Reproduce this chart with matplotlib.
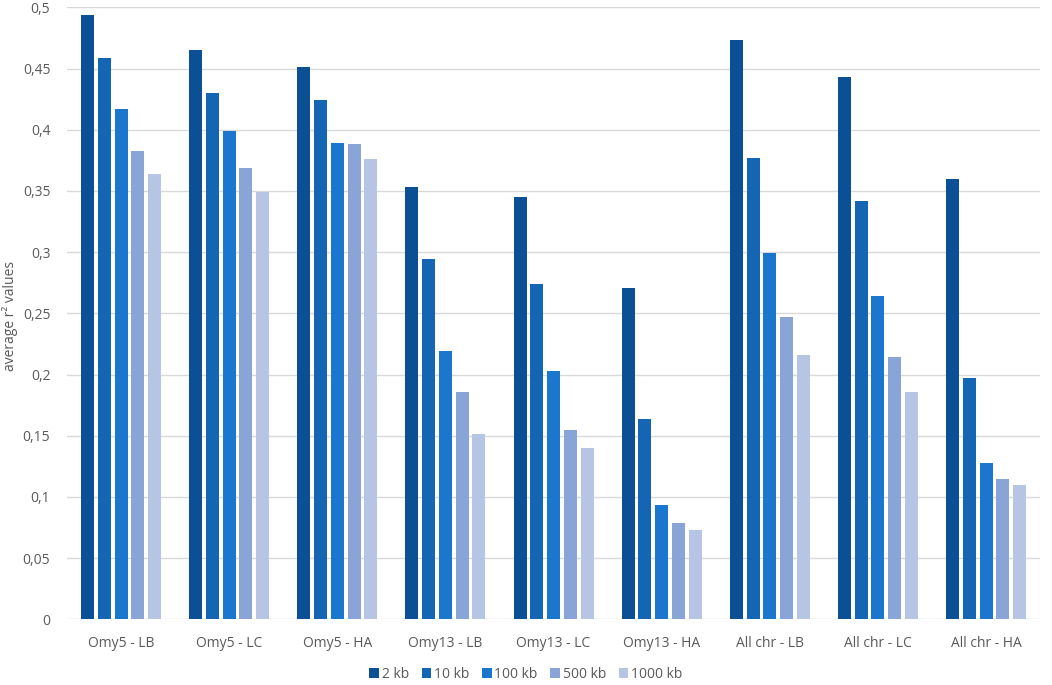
import matplotlib.pyplot as plt
import numpy as np

categories = ['Omy5 - LB', 'Omy5 - LC', 'Omy5 - HA', 'Omy13 - LB', 'Omy13 - LC',
              'Omy13 - HA', 'All chr - LB', 'All chr - LC', 'All chr - HA']
series = ['2 kb', '10 kb', '100 kb', '500 kb', '1000 kb']
v_2kb = [0.494, 0.465, 0.451, 0.353, 0.345, 0.271, 0.473, 0.443, 0.360]
v_10kb = [0.459, 0.430, 0.424, 0.294, 0.274, 0.164, 0.377, 0.342, 0.197]
v_100kb = [0.417, 0.399, 0.389, 0.219, 0.203, 0.093, 0.299, 0.264, 0.128]
v_500kb = [0.383, 0.369, 0.388, 0.186, 0.155, 0.079, 0.247, 0.214, 0.115]
v_1000kb = [0.364, 0.349, 0.376, 0.151, 0.140, 0.073, 0.216, 0.186, 0.110]
colors = ['#0B5094', '#1565B5', '#1B76CE', '#89A5D7', '#B7C5E5']

plt.rcParams['font.family'] = ['Open Sans', 'DejaVu Sans']

fig = plt.figure(figsize=(10.52, 6.85), dpi=100)
ax = fig.add_axes([0.0637, 0.0959, 0.925, 0.8934])

x = np.arange(len(categories))
step = 0.155
width = 0.12
for i, (name, vals) in enumerate(zip(series, [v_2kb, v_10kb, v_100kb, v_500kb, v_1000kb])):
    ax.bar(x + (i - 2) * step, vals, width, color=colors[i], label=name, zorder=3)

ax.set_xlim(-0.5, len(categories) - 0.5)
ax.set_ylim(0, 0.5)
yt = np.arange(0, 0.501, 0.05)
ax.set_yticks(yt)
ax.set_yticklabels([('%g' % round(t, 2)).replace('.', ',') for t in yt])
ax.set_xticks(x)
ax.set_xticklabels(categories)
ax.tick_params(axis='both', length=0, labelsize=10, colors='#595959')
ax.tick_params(axis='x', pad=12)
ax.tick_params(axis='y', pad=12)
ax.grid(axis='y', color='#D9D9D9', linewidth=1, zorder=0)
for s in ax.spines.values():
    s.set_visible(False)
ax.set_ylabel('average r² values', fontsize=10, color='#595959')
ax.yaxis.set_label_coords(-0.05, 0.495)

fig.legend(loc='upper center', bbox_to_anchor=(0.5, 0.045), ncol=5, frameon=False,
           fontsize=10, labelcolor='#595959', handlelength=0.7, handleheight=0.7,
           handletextpad=0.2, columnspacing=0.9)

fig.savefig('out.png', dpi=100)
